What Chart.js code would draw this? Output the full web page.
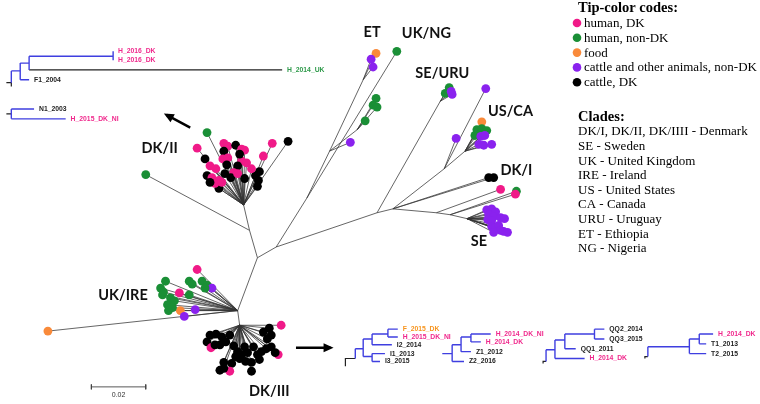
<!DOCTYPE html>
<html><head><meta charset="utf-8">
<script src="https://cdn.jsdelivr.net/npm/chart.js@4/dist/chart.umd.min.js"></script>
<style>html,body{margin:0;padding:0;background:#fff}#wrap{width:760px;height:404px;position:relative}</style>
</head><body><div id="wrap"><canvas id="c" width="760" height="404"></canvas></div>
<script>
// ===== DATA =====
const tipColors = {hDK:'#f01a88', hN:'#1a8f36', food:'#f98a3a', aN:'#8a22ee', cDK:'#000000'};
const legendCodes = ['hDK','hN','food','aN','cDK'];
const legendNames = ['human, DK','human, non-DK','food','cattle and other animals, non-DK','cattle, DK'];
const cladeLines = ['DK/I, DK/II, DK/IIII - Denmark','SE - Sweden','UK - United Kingdom','IRE - Ireland','US - United States','CA - Canada','URU - Uruguay','ET - Ethiopia','NG - Nigeria'];

// internal nodes of the unrooted tree (layout units)
const nodes = {
  A:[256,259], B:[275,248], C:[306,198], D:[329,150], ETn:[363,77], GN:[357,128],
  E:[377,213], SU:[441,99], F:[393,209], G:[445,168], H:[466,150],
  P1:[437,213], P2:[451,215], S:[468,219], K0:[248,231], K:[242,205], U:[236,313], D3:[238,328]
};
const links = [['A','B'],['B','C'],['C','D'],['D','ETn'],['D','GN'],['B','E'],['E','SU'],['E','F'],
  ['F','G'],['G','H'],['F','P1'],['P1','P2'],['P2','S'],['A','K0'],['K0','K'],['A','U'],['U','D3']];

// tips: [x, y, source code]
const tipsET = [[376,50,'food'],[371,56,'aN'],[373,64,'aN']];
const tipsUKNG = [[397,48,'hN']];
const tipsGreenET = [[376,96,'hN'],[373,103,'hN'],[377,105,'hN'],[365,119,'hN']];
const tipsD = [[350,141,'aN']];
const tipsSEURU = [[450,85,'hN'],[446,91,'hN'],[452,89,'aN'],[453,92,'aN']];
const tipsG = [[487,86,'aN'],[457,137,'aN']];
const tipsUSCA = [[483,120,'food'],[478,128,'hN'],[483,127,'hN'],[488,129,'hN'],[476,134,'hN'],[482,135,'aN'],
  [486,134,'aN'],[480,143,'aN'],[485,144,'aN'],[493,143,'aN']];
const tipsDKI = [[490,177,'cDK'],[495,177,'cDK']];
const tipsP1 = [[502,189,'hDK']];
const tipsP2 = [[518,191,'hN'],[517,194,'hDK']];
const tipsSE = [[488,210,'aN'],[493,209,'aN'],[497,212,'aN'],[490,215,'aN'],[495,217,'aN'],[489,220,'aN'],
  [493,221,'aN'],[502,218,'aN'],[506,219,'aN'],[493,227,'aN'],[497,228,'aN'],[500,226,'aN'],[502,231,'aN'],
  [495,233,'aN'],[505,232,'aN'],[509,233,'aN']];
const tipsK0 = [[143,174,'hN']];
const tipsDKII = [[205,131,'hN'],[195,147,'hDK'],[222,142,'hDK'],[226,145,'hDK'],[234,144,'cDK'],[222,150,'cDK'],
  [240,148,'hDK'],[243,149,'hDK'],[271,142,'hDK'],[287,140,'cDK'],[262,155,'hDK'],[203,158,'cDK'],[221,158,'hDK'],
  [226,157,'hDK'],[240,160,'hDK'],[245,162,'hDK'],[236,165,'cDK'],[208,165,'hDK'],[225,164,'cDK'],[232,172,'hDK'],
  [214,168,'hDK'],[205,175,'cDK'],[210,177,'hDK'],[217,180,'hDK'],[223,173,'cDK'],[229,177,'cDK'],[236,173,'hDK'],
  [243,178,'cDK'],[254,175,'cDK'],[258,171,'cDK'],[257,180,'cDK'],[256,186,'cDK'],[217,188,'cDK'],[213,183,'hDK'],
  [208,182,'cDK'],[220,182,'hDK'],[250,168,'hDK'],[238,153,'cDK']];
const tipsUKIRE = [[44,334,'food'],[195,271,'hDK'],[163,283,'hN'],[187,283,'hN'],[190,286,'hN'],[200,283,'hN'],
  [205,287,'hN'],[210,290,'aN'],[203,290,'hN'],[158,290,'hN'],[161,294,'hN'],[160,297,'hN'],[177,295,'hDK'],
  [187,297,'hN'],[168,300,'hN'],[172,303,'hN'],[165,307,'hN'],[166,313,'hN'],[178,313,'food'],[193,312,'aN'],
  [182,319,'aN'],[170,310,'hN']];
const tipsDKIII = [[280,328,'hDK'],[268,331,'cDK'],[262,335,'cDK'],[270,338,'cDK'],[266,342,'cDK'],[208,338,'cDK'],
  [214,337,'cDK'],[220,340,'cDK'],[228,338,'cDK'],[205,345,'cDK'],[209,351,'hDK'],[213,348,'cDK'],[218,348,'cDK'],
  [224,345,'cDK'],[232,349,'cDK'],[236,355,'cDK'],[243,350,'cDK'],[246,356,'cDK'],[252,350,'cDK'],[256,358,'cDK'],
  [260,355,'cDK'],[265,352,'cDK'],[270,350,'cDK'],[277,358,'hDK'],[274,356,'cDK'],[238,362,'cDK'],[244,365,'cDK'],
  [250,366,'cDK'],[258,363,'cDK'],[222,366,'cDK'],[230,367,'cDK'],[218,374,'cDK'],[228,375,'hDK'],[222,372,'cDK'],
  [250,375,'cDK'],[234,360,'cDK'],[240,358,'cDK']];
const tipGroups = [['ETn',tipsET],['C',tipsUKNG],['GN',tipsGreenET],['D',tipsD],['SU',tipsSEURU],['G',tipsG],
  ['H',tipsUSCA],['F',tipsDKI],['P1',tipsP1],['P2',tipsP2],['S',tipsSE],['K0',tipsK0],['K',tipsDKII],
  ['U',tipsUKIRE],['D3',tipsDKIII]];

const cladeNames = [['ET',372,29],['UK/NG',427,30],['SE/URU',443,70],['US/CA',512,109],['DK/I',518,170],
  ['SE',480,242],['DK/II',157,147],['UK/IRE',120,297],['DK/III',268,396]];

// inset sub-trees: [id, parent, x, y, label, code]
const insetTop = [['r',null,7,80],['n1','r',16,68],['n2','n1',25,60],['F1','n1',25,77,'F1_2004','cDK'],
  ['n3','n2',110,53],['UK','n2',281,67,'H_2014_UK','hN'],['h1','n3',110,48,'H_2016_DK','hDK'],['h2','n3',110,57,'H_2016_DK','hDK']];
const insetN = [['r',null,7,112],['N1','r',30,107,'N1_2003','cDK'],['H','r',62,117,'H_2015_DK_NI','hDK']];
const insetI = [['r',null,355,362],['n1','r',363,352],['n2','n1',372,342],['n4','n2',388,337],
  ['f','n4',398,332,'F_2015_DK','food'],['h','n4',398,340,'H_2015_DK_NI','hDK'],['i2','n2',392,348,'I2_2014','cDK'],
  ['n3','n1',372,360],['i1','n3',385,357,'I1_2013','cDK'],['i3','n3',380,365,'I3_2015','cDK']];
const insetZ = [['r',null,453,357],['n1','r',462,348],['z2','r',465,365,'Z2_2016','cDK'],['n2','n1',472,340],
  ['z1','n1',472,355,'Z1_2012','cDK'],['a','n2',492,337,'H_2014_DK_NI','hDK'],['b','n2',482,345,'H_2014_DK','hDK']];
const insetQ = [['r',null,548,365],['n1','r',557,353],['n2','n1',567,343],['h','n1',587,362,'H_2014_DK','hDK'],
  ['n3','n2',597,337],['q1','n2',578,352,'QQ1_2011','cDK'],['q2','n3',607,332,'QQ2_2014','cDK'],['q3','n3',607,342,'QQ3_2015','cDK']];
const insetT = [['r',null,651,360],['n1','r',693,350],['n2','n1',703,342],['t2','n1',710,357,'T2_2015','cDK'],
  ['h','n2',717,337,'H_2014_DK','hDK'],['t1','n2',710,347,'T1_2013','cDK']];
const insets = [insetTop, insetN, insetI, insetZ, insetQ, insetT];
const blackBranchIds = ['UK'];
const rootStubs = [[[2,80],[7,80],[7,84]],[[2,112],[7,112]],[[345,370],[345,362],[355,362]],[[443,357],[453,357]],
  [[545,367],[545,365],[548,365]],[[648,362],[648,360],[651,360]]];
const arrows = [[188,126,164,113],[295,351,330,351]];
const scaleBar = {x0:88, x1:143, y:391, label:'0.02'};

// ===== BUILD =====
const labelCol = {hDK:'#f0288c', hN:'#2e9a4a', food:'#f7941d', cDK:'#222222'};
function pushSeg(arr, pts){ pts.forEach(p=>arr.push({x:p[0],y:p[1]})); arr.push({x:pts[pts.length-1][0],y:null}); }
const treeEdges = [], tipPts = [];
links.forEach(([a,b])=>pushSeg(treeEdges,[nodes[a],nodes[b]]));
tipGroups.forEach(([p,list])=>list.forEach(t=>{ pushSeg(treeEdges,[nodes[p],[t[0],t[1]]]); tipPts.push({x:t[0],y:t[1],c:t[2]}); }));
const blueEdges = [], blackEdges = [], insetLabels = [];
insets.forEach(rows=>{
  const idx = {}; rows.forEach(r=>idx[r[0]]=r);
  rows.forEach(r=>{
    if(r[1]){ const p = idx[r[1]];
      const target = blackBranchIds.includes(r[0]) ? blackEdges : blueEdges;
      pushSeg(blueEdges,[[p[2],p[3]],[p[2],r[3]]]);
      pushSeg(target,[[p[2],r[3]],[r[2],r[3]]]);
    }
    if(r[4]) insetLabels.push([r[4],r[2]+5,r[3],r[5]]);
  });
});
rootStubs.forEach(s=>pushSeg(s===rootStubs[3]?blueEdges:blackEdges,s));
const arrowPts = []; arrows.forEach(a=>pushSeg(arrowPts,[[a[0],a[1]],[a[2],a[3]]]));
const barPts = []; pushSeg(barPts,[[scaleBar.x0,scaleBar.y],[scaleBar.x1,scaleBar.y]]);
pushSeg(barPts,[[scaleBar.x0,scaleBar.y-2.5],[scaleBar.x0,scaleBar.y+2.5]]);
pushSeg(barPts,[[scaleBar.x1,scaleBar.y-2.5],[scaleBar.x1,scaleBar.y+2.5]]);

const lineDs = (data,color,w,order)=>({data,showLine:true,borderColor:color,borderWidth:w,pointRadius:0,
  pointHoverRadius:0,spanGaps:false,tension:0,order,clip:false});

const textPlugin = {
  id:'texts',
  afterDatasetsDraw(chart){
    const {ctx, scales:{x,y}} = chart;
    const X = v=>x.getPixelForValue(v), Y = v=>y.getPixelForValue(v);
    ctx.save();
    ctx.fillStyle = '#000';
    arrows.forEach(a=>{
      const x1=X(a[2]), y1=Y(a[3]), ang=Math.atan2(y1-Y(a[1]), x1-X(a[0]));
      ctx.beginPath(); ctx.moveTo(x1+3*Math.cos(ang), y1+3*Math.sin(ang));
      ctx.lineTo(x1-7*Math.cos(ang)+4.5*Math.sin(ang), y1-7*Math.sin(ang)-4.5*Math.cos(ang));
      ctx.lineTo(x1-7*Math.cos(ang)-4.5*Math.sin(ang), y1-7*Math.sin(ang)+4.5*Math.cos(ang));
      ctx.closePath(); ctx.fill();
    });
    ctx.textAlign='center'; ctx.textBaseline='middle'; ctx.fillStyle='#111';
    ctx.font = 'bold 14.5px Lato';
    cladeNames.forEach(c=>ctx.fillText(c[0], X(c[1]), Y(c[2])));
    ctx.textAlign='left'; ctx.font='bold 6.8px "Liberation Sans"';
    insetLabels.forEach(l=>{ ctx.fillStyle=labelCol[l[3]]; ctx.fillText(l[0], X(l[1]), Y(l[2])); });
    ctx.fillStyle='#333'; ctx.textAlign='center'; ctx.font='7px "Liberation Sans"';
    ctx.fillText(scaleBar.label, X((scaleBar.x0+scaleBar.x1)/2), Y(scaleBar.y+8));
    ctx.textAlign='left'; ctx.fillStyle='#000';
    ctx.font='bold 14.5px "Liberation Serif"';
    ctx.fillText('Tip-color codes:', 578, 8);
    ctx.font='13px "Liberation Serif"';
    legendCodes.forEach((c,i)=>{
      const yy = 23 + i*14.8;
      ctx.fillStyle = tipColors[c]; ctx.beginPath(); ctx.arc(577, yy, 4.3, 0, Math.PI*2); ctx.fill();
      ctx.fillStyle='#000'; ctx.fillText(legendNames[i], 584, yy+0.5);
    });
    ctx.font='bold 14.5px "Liberation Serif"';
    ctx.fillText('Clades:', 578, 117);
    ctx.font='13px "Liberation Serif"';
    cladeLines.forEach((t,i)=>ctx.fillText(t, 578, 132 + i*14.6));
    ctx.restore();
  }
};

new Chart(document.getElementById('c'), {
  type:'scatter',
  data:{datasets:[
    {data:tipPts, pointRadius:4.4, pointHoverRadius:4.4, pointBorderWidth:0, order:0, clip:false,
     pointBackgroundColor: c=>c.raw ? tipColors[c.raw.c] : '#000', pointBorderColor: c=>c.raw ? tipColors[c.raw.c] : '#000'},
    lineDs(treeEdges,'#333',0.75,1),
    lineDs(blueEdges,'#3f3fe0',1.4,2),
    lineDs(blackEdges,'#222',1.2,3),
    lineDs(arrowPts,'#000',2.5,4),
    lineDs(barPts,'#444',0.9,5)
  ]},
  options:{
    responsive:false, animation:false, events:[],
    layout:{padding:0},
    plugins:{legend:{display:false}, tooltip:{enabled:false}},
    scales:{
      x:{type:'linear', min:0, max:760, display:false},
      y:{type:'linear', min:0, max:404, reverse:true, display:false}
    }
  },
  plugins:[textPlugin]
});
</script></body></html>
